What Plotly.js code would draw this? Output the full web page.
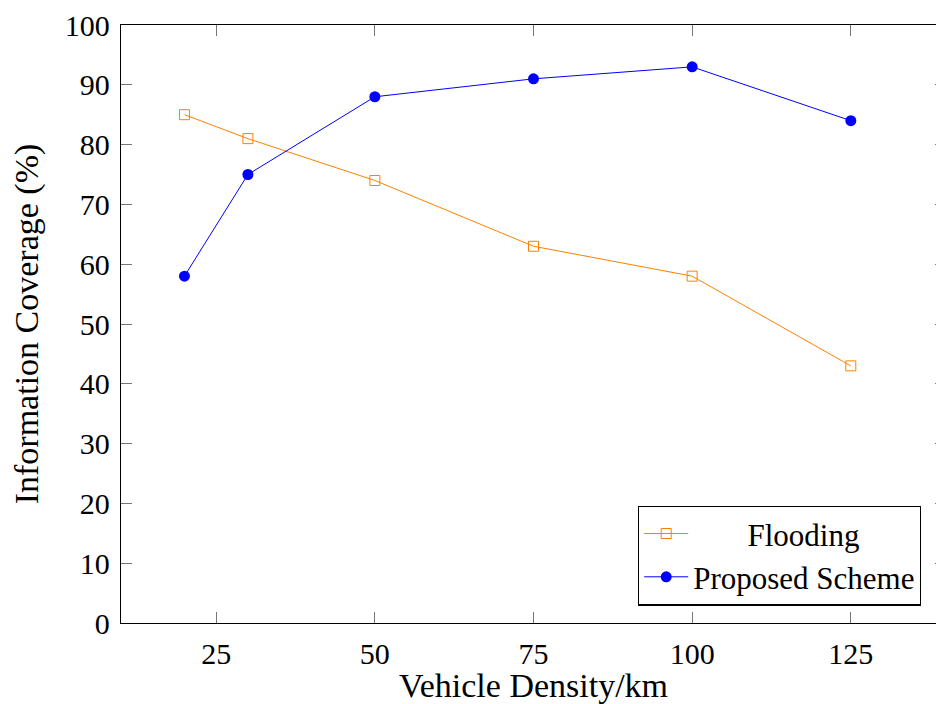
<!DOCTYPE html>
<html>
<head>
<meta charset="utf-8">
<script src="https://cdn.plot.ly/plotly-3.0.1.min.js"></script>
<style>
html,body{margin:0;padding:0;overflow:hidden;background:#fff;width:936px;height:704px;}
#chart{width:950px;height:704px;}
</style>
</head>
<body>
<div id="chart"></div>
<script>
const density = [20, 30, 50, 75, 100, 125];
const flooding = [85, 81, 74, 63, 58, 43];
const proposed = [58, 75, 88, 91, 93, 84];
const xTicks = [25, 50, 75, 100, 125];
const yTicks = [0, 10, 20, 30, 40, 50, 60, 70, 80, 90, 100];
const seriesNames = ["\u00a0\u00a0\u00a0\u00a0\u00a0\u00a0\u00a0Flooding", "Proposed Scheme"];

const FONT = "Liberation Serif, serif";

const traces = [
  {
    x: density, y: flooding, name: seriesNames[0], type: "scatter", mode: "lines+markers",
    line: {color: "rgb(255,128,0)", width: 1},
    marker: {symbol: "square-open", size: 10, color: "rgb(255,128,0)", line: {width: 1, color: "rgb(255,128,0)"}}
  },
  {
    x: density, y: proposed, name: seriesNames[1], type: "scatter", mode: "lines+markers",
    line: {color: "rgb(0,0,255)", width: 1},
    marker: {symbol: "circle", size: 11, color: "rgb(0,0,255)"}
  }
];

const axisCommon = {
  showline: true, linecolor: "#000", linewidth: 1.3, mirror: "ticks",
  ticks: "inside", ticklen: 11, tickwidth: 1, tickcolor: "#777",
  showgrid: false, zeroline: false,
  tickfont: {family: FONT, size: 30, color: "#000"}
};

const layout = {
  width: 950, height: 704,
  margin: {l: 121, r: 4, t: 25, b: 80.5},
  paper_bgcolor: "#fff", plot_bgcolor: "#fff",
  font: {family: FONT, color: "#000"},
  xaxis: Object.assign({}, axisCommon, {
    range: [10, 140], tickmode: "array", tickvals: xTicks, ticktext: xTicks.map(String),
    ticklabelstandoff: 4,
    title: {text: "Vehicle Density/km", font: {family: FONT, size: 34}, standoff: 5}
  }),
  yaxis: Object.assign({}, axisCommon, {
    range: [0, 100], tickmode: "array", tickvals: yTicks, ticktext: yTicks.map(String),
    ticklabelstandoff: 4,
    title: {text: "Information Coverage (%)", font: {family: FONT, size: 34}, standoff: 15}
  }),
  showlegend: true,
  legend: {
    x: 0.9697, y: 0.029, xanchor: "right", yanchor: "bottom",
    bgcolor: "#fff", bordercolor: "#000", borderwidth: 1.2,
    font: {family: FONT, size: 31, color: "#000"},
    tracegroupgap: 0, itemwidth: 44
  }
};

Plotly.newPlot("chart", traces, layout, {displayModeBar: false, staticPlot: true});
</script>
</body>
</html>
